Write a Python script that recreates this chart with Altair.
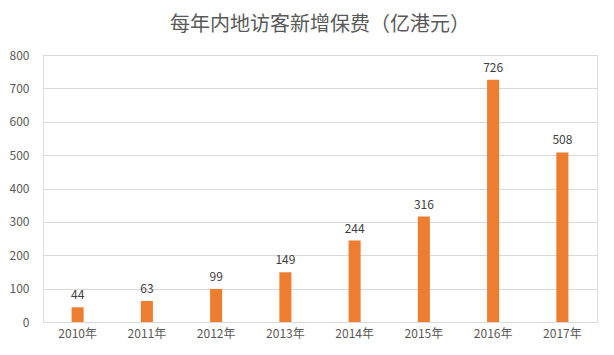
import altair as alt
import pandas as pd

years = ["2010年", "2011年", "2012年", "2013年", "2014年", "2015年", "2016年", "2017年"]
values = [44, 63, 99, 149, 244, 316, 726, 508]

df = pd.DataFrame({"year": years, "value": values})

FONT = "Noto Sans CJK SC"
GRAY = "#595959"

base = alt.Chart(df).encode(
    x=alt.X("year:N", sort=years, title=None,
            scale=alt.Scale(paddingInner=0.826, paddingOuter=0.413),
            axis=alt.Axis(labelAngle=0, ticks=False, domain=True, domainColor="#d9d9d9",
                          labelColor=GRAY, labelFont=FONT, labelFontSize=12, labelPadding=6)),
    y=alt.Y("value:Q", title=None,
            scale=alt.Scale(domain=[0, 800]),
            axis=alt.Axis(values=[0, 100, 200, 300, 400, 500, 600, 700, 800], domain=False, ticks=False,
                          labelColor=GRAY, labelFont=FONT, labelFontSize=12, labelPadding=14,
                          gridColor="#d9d9d9")),
)

bars = base.mark_bar(color="#ed7d31")
labels = base.mark_text(dy=-12, font=FONT, fontSize=12, color="#404040").encode(text="value:Q")

chart = (bars + labels).properties(
    width=554, height=267,
    title=alt.TitleParams("每年内地访客新增保费（亿港元）", font=FONT, fontSize=20, fontWeight="normal",
                          color=GRAY, anchor="middle", offset=14),
    autosize=alt.AutoSizeParams(type="none"),
    padding={"left": 43, "top": 55, "right": 17, "bottom": 33},
).configure_view(stroke=None).configure(background="white")

chart.save("out.html", embed_options={"renderer": "svg", "actions": False})
